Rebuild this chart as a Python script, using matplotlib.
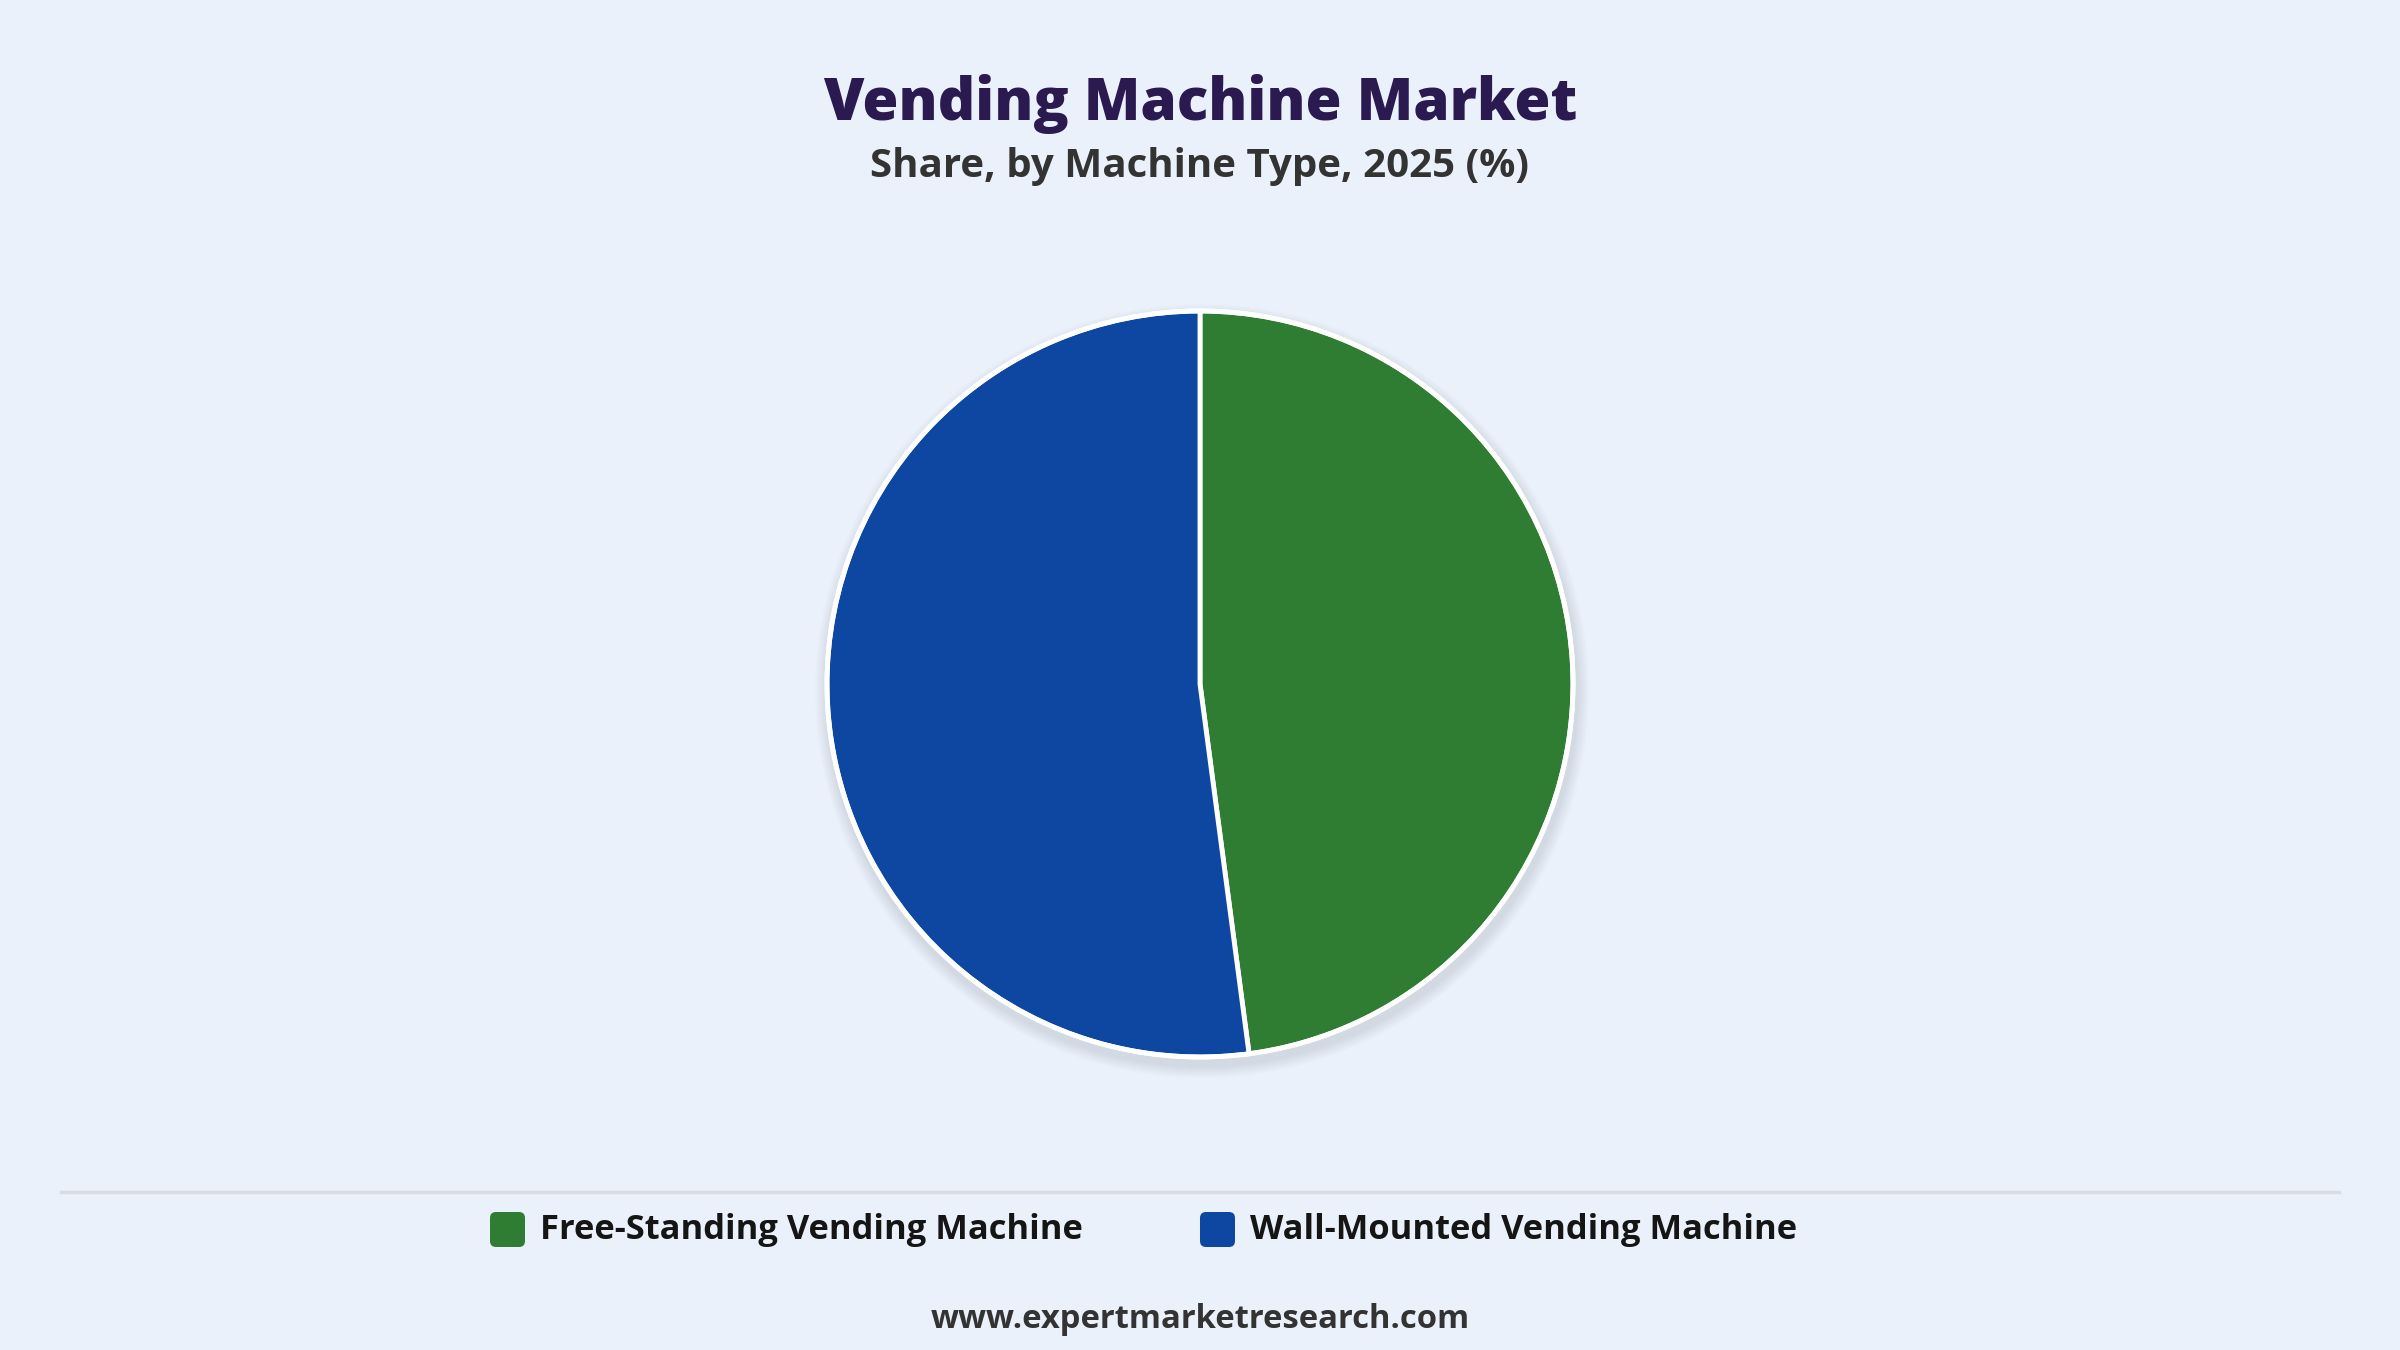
import matplotlib.pyplot as plt
from matplotlib.patches import Circle, FancyBboxPatch

labels = ["Free-Standing Vending Machine", "Wall-Mounted Vending Machine"]
shares = [47.9, 52.1]
colors = ["#2e7d32", "#0d47a1"]

title = "Vending Machine Market"
subtitle = "Share, by Machine Type, 2025 (%)"
footer = "www.expertmarketresearch.com"

W, H = 2400, 1350
bg = "#eaf1fb"

plt.rcParams['font.family'] = ['Open Sans', 'DejaVu Sans']

fig = plt.figure(figsize=(24, 13.5), dpi=100, facecolor=bg)
ax = fig.add_axes([0, 0, 1, 1])
ax.set_facecolor(bg)

cx, cy, r = 1200, H - 684, 373

# soft shadow under the pie
for i in range(12):
    ax.add_patch(Circle((cx + 2, cy - 7), r + 14 - i, color="#9aa6b8",
                        alpha=0.025, lw=0, zorder=1))

ax.pie(shares, colors=colors, startangle=90, counterclock=False,
       center=(cx, cy), radius=r, frame=True,
       wedgeprops=dict(edgecolor="white", linewidth=3.5, zorder=2))
ax.add_patch(Circle((cx, cy), r, fill=False, ec="white", lw=3.5, zorder=3))

ax.set_xlim(0, W)
ax.set_ylim(0, H)
ax.set_aspect("equal")
ax.axis("off")

ax.text(W / 2, H - 104, title, ha="center", va="center", fontsize=42,
        fontweight=800, color="#2b1a4f")
ax.text(W / 2, H - 166, subtitle, ha="center", va="center", fontsize=29,
        fontweight="bold", color="#333333")

ax.plot([61, 2339], [H - 1192, H - 1192], color="#d8dde4", lw=2.5)

legend_x = [490, 1200]
for x, lab, c in zip(legend_x, labels, colors):
    ax.add_patch(FancyBboxPatch((x, H - 1247), 35, 35,
                                boxstyle="round,pad=0,rounding_size=6",
                                fc=c, ec="none"))
    ax.text(x + 50, H - 1230, lab, ha="left", va="center", fontsize=24.8,
            fontweight="bold", color="#151515")

ax.text(W / 2, H - 1319, footer, ha="center", va="center", fontsize=23.6,
        fontweight="bold", color="#333333")

fig.savefig("out.png", dpi=100, facecolor=bg)
